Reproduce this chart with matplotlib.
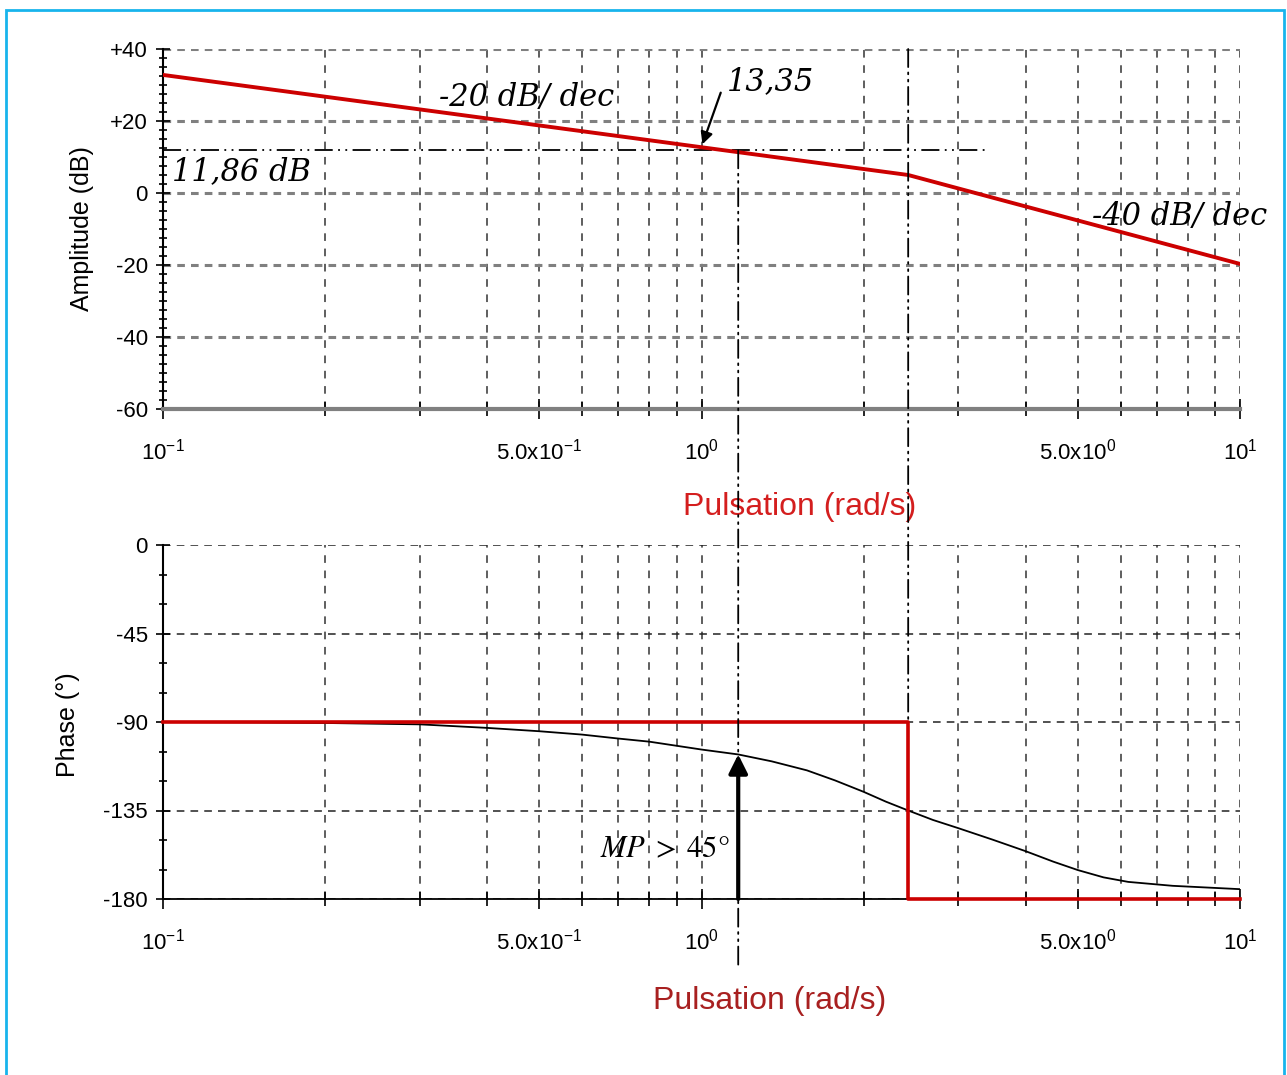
import numpy as np
import matplotlib
matplotlib.use("Agg")
import matplotlib.pyplot as plt
from matplotlib.patches import ConnectionPatch, Rectangle

plt.rcParams['font.family'] = ['Liberation Sans', 'DejaVu Sans']
plt.rcParams['mathtext.fontset'] = 'custom'
plt.rcParams['mathtext.rm'] = 'Liberation Sans'
plt.rcParams['mathtext.it'] = 'Liberation Sans:italic'
plt.rcParams['axes.unicode_minus'] = False

# asymptotic gain (dB) : -20 dB/dec then -40 dB/dec
w_gain = [0.1, 2.42, 10]
gain_db = [32.8, 5.0, -19.7]

# asymptotic phase (step) and real phase
w_step = [0.1, 2.42, 2.42, 10]
phase_step = [-90, -90, -180, -180]
w_phase = [0.1, 0.15, 0.2, 0.3, 0.4, 0.5, 0.6, 0.7, 0.8, 1.0, 1.17, 1.35, 1.57,
           1.77, 2.0, 2.2, 2.42, 2.69, 3.0, 3.47, 4.0, 4.5, 5.0, 5.58, 6.2, 7.5, 10]
phase = [-90, -90.2, -90.5, -91.2, -93, -94.7, -96.4, -98.4, -100, -104,
         -106.5, -110, -114.6, -119.7, -125.5, -130.5, -135, -139.8, -144, -149.8,
         -155.7, -161, -165.3, -169, -171.3, -173.3, -175]

w_cross = 1.17      # crossover
w_corner = 2.42     # corner
gain_mark = 11.86

xticks = [0.1, 0.5, 1, 5, 10]
xlabels = [r'$\mathregular{10^{-1}}$', r'$\mathregular{5.0x10^{-1}}$', r'$\mathregular{10^{0}}$',
           r'$\mathregular{5.0x10^{0}}$', r'$\mathregular{10^{1}}$']
xminor = [0.2, 0.3, 0.4, 0.6, 0.7, 0.8, 0.9, 2, 3, 4, 6, 7, 8, 9]
gain_ticks = [40, 20, 0, -20, -40, -60]
gain_labels = ['+40', '+20', '0', '-20', '-40', '-60']
phase_ticks = [0, -45, -90, -135, -180]

RED = '#cc0000'
W, H = 1287, 1075
fig = plt.figure(figsize=(W / 100, H / 100), dpi=100)

def px(x0, y0, x1, y1):
    return [x0 / W, 1 - y1 / H, (x1 - x0) / W, (y1 - y0) / H]

ax1 = fig.add_axes(px(163, 49, 1240, 409))
ax2 = fig.add_axes(px(163, 545, 1240, 899))

for ax in (ax1, ax2):
    ax.set_xscale('log')
    ax.set_xlim(0.1, 10)
    ax.set_xticks(xticks)
    ax.set_xticklabels(xlabels)
    ax.set_xticks(xminor, minor=True)
    ax.xaxis.set_minor_formatter(matplotlib.ticker.NullFormatter())
    ax.spines['top'].set_visible(False)
    ax.spines['right'].set_visible(False)
    ax.spines['left'].set_linewidth(1.5)
    ax.tick_params(axis='x', which='major', direction='inout', length=14, width=1.2, pad=14, labelsize=16)
    ax.tick_params(axis='x', which='minor', direction='inout', length=10, width=1.2)
    ax.tick_params(axis='y', which='major', direction='inout', length=10, width=1.2, pad=6, labelsize=16)
    ax.tick_params(axis='y', which='minor', direction='inout', length=6, width=1.2)
    ax.xaxis.grid(True, which='both', color='#333333', linestyle=(0, (5, 5)), linewidth=1.1)
    ax.set_axisbelow(True)

# ---- amplitude
ax1.set_ylim(-60, 40)
ax1.set_yticks(gain_ticks)
ax1.set_yticklabels(gain_labels)
ax1.set_yticks(np.arange(-60, 40.1, 2.5), minor=True)
ax1.yaxis.grid(True, which='major', color='#808080', linestyle=(0, (2.5, 2)), linewidth=2.2)
ax1.spines['bottom'].set_color('#808080')
ax1.spines['bottom'].set_linewidth(3)
ax1.plot(w_gain, gain_db, color=RED, lw=2.8, zorder=5)

dd = (0, (10, 3, 1, 3, 1, 3))
ax1.plot([0.1, 3.36], [gain_mark, gain_mark], color='black', lw=1.3, linestyle=dd, zorder=4)

ser = dict(family='DejaVu Serif', style='italic', fontsize=22)
ax1.text(0.474, 26.4, '-20 dB/ dec', ha='center', va='center', **ser)
ax1.text(1.115, 30.8, '13,35', ha='left', va='center', **ser)
ax1.text(0.104, 5.8, '11,86 dB', ha='left', va='center', **ser)
ax1.text(5.3, -6.4, '-40 dB/ dec', ha='left', va='center', zorder=6, **ser)
ax1.annotate('', xy=(1.0, 12.8), xytext=(1.09, 28.6),
             arrowprops=dict(arrowstyle='-|>', color='black', lw=1.6, mutation_scale=18))

# ---- phase
ax2.set_ylim(-180, 0)
ax2.set_yticks(phase_ticks)
ax2.set_yticks(np.arange(-180, 0.1, 15), minor=True)
ax2.yaxis.grid(True, which='major', color='#222222', linestyle=(0, (5, 4)), linewidth=1.1)
ax2.spines['bottom'].set_linewidth(1.3)
ax2.plot(w_phase, phase, color='black', lw=1.3, zorder=4)
ax2.plot(w_step, phase_step, color=RED, lw=2.6, zorder=5, clip_on=False)
ax2.annotate('', xy=(w_cross, -106.5), xytext=(w_cross, -180),
             arrowprops=dict(arrowstyle='-|>', color='black', lw=3, mutation_scale=28,
                             shrinkA=0, shrinkB=0), zorder=6)
ax2.text(1.125, -154.5, r'$MP\;>\;45\degree$', ha='right', va='center', fontsize=22,
         math_fontfamily='stix')

# vertical dash-dot markers spanning both plots
c1 = ConnectionPatch(xyA=(w_cross, gain_mark), coordsA=ax1.transData,
                     xyB=(w_cross, -0.2), coordsB=ax2.get_xaxis_transform(),
                     color='black', lw=1.3, linestyle=dd, zorder=7)
c2 = ConnectionPatch(xyA=(w_corner, 40), coordsA=ax1.transData,
                     xyB=(w_corner, -90), coordsB=ax2.transData,
                     color='black', lw=1.3, linestyle=dd, zorder=7)
fig.add_artist(c1)
fig.add_artist(c2)

# axis labels
fig.text(82 / W, 1 - 229 / H, 'Amplitude (dB)', rotation=90, ha='center', va='center', fontsize=18)
fig.text(68 / W, 1 - 725 / H, 'Phase (°)', rotation=90, ha='center', va='center', fontsize=18)
fig.text(800 / W, 1 - 507 / H, 'Pulsation (rad/s)', ha='center', va='center', fontsize=23, color='#d41e1e')
fig.text(770 / W, 1 - 1001 / H, 'Pulsation (rad/s)', ha='center', va='center', fontsize=23, color='#a82020')

# cyan frame
fig.add_artist(Rectangle((6 / W, -0.05), (1284 - 6) / W, 1.05 - 10 / H, transform=fig.transFigure,
                         fill=False, edgecolor='#18b4ec', lw=2))

fig.savefig('out.png', dpi=100)
